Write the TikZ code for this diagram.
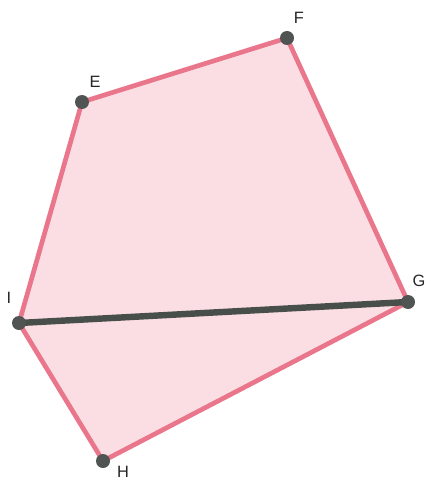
\documentclass[tikz,border=0pt]{standalone}
\usepackage{fontspec}
\setmainfont{Liberation Sans}
\usepackage{xcolor}
\usepackage{tikz}
\usetikzlibrary{positioning, calc}
\definecolor{polyfill}{RGB}{251,222,228}
\definecolor{polyedge}{RGB}{234,118,140}
\definecolor{diagline}{RGB}{72,78,74}
\definecolor{ptdot}{RGB}{80,84,82}
\tikzset{
  vertex/.style={circle, fill=ptdot, minimum size=4.2mm, inner sep=0pt},
  vlabel/.style={font=\fontsize{14}{16}\selectfont, text=black!85, inner sep=0pt},
  edge/.style={draw=polyedge, line width=4pt, line join=round},
  diag/.style={draw=diagline, line width=5.5pt, line cap=round},
}
\begin{document}
\begin{tikzpicture}[x=0.03cm, y=-0.03cm]
  \useasboundingbox (0,0) rectangle (428,481);

  % vertices
  \coordinate (E) at (82,102);
  \coordinate (F) at (287,38);
  \coordinate (G) at (408,302);
  \coordinate (H) at (103,461);
  \coordinate (I) at (19,323);

  % pentagon
  \fill[polyfill] (E) -- (F) -- (G) -- (H) -- (I) -- cycle;
  \draw[edge] (E) -- (F) -- (G) -- (H) -- (I) -- cycle;

  % diagonal
  \draw[diag] (I) -- (G);

  % points
  \foreach \p in {E,F,G,H,I} { \node[vertex] (d\p) at (\p) {}; }

  % labels
  \node[vlabel] (lE) at (95,82) {E};
  \node[vlabel] (lF) at (299,18) {F};
  \node[vlabel] (lG) at (419,281) {G};
  \node[vlabel] (lH) at (123,472) {H};
  \node[vlabel] (lI) at (9,298) {I};
\end{tikzpicture}
\end{document}
